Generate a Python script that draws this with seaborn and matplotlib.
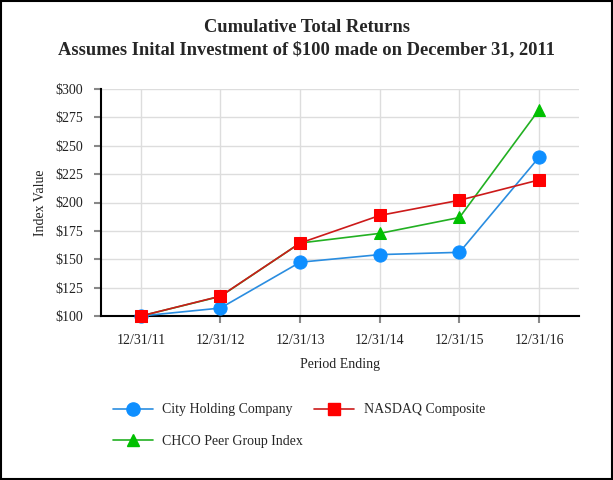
import matplotlib
matplotlib.use("Agg")
import matplotlib.pyplot as plt
from matplotlib.lines import Line2D
from matplotlib.patches import Rectangle
import seaborn as sns
import pandas as pd

periods = ["12/31/11", "12/31/12", "12/31/13", "12/31/14", "12/31/15", "12/31/16"]
city = [100.0, 107.0, 147.4, 154.1, 156.1, 240.0]
nasdaq = [100.0, 117.5, 164.3, 188.6, 202.0, 219.9]
peer = [100.0, 117.3, 164.3, 172.8, 186.8, 281.9]
series_names = ["City Holding Company", "NASDAQ Composite", "CHCO Peer Group Index"]
y_ticks = [100, 125, 150, 175, 200, 225, 250, 275, 300]

df = pd.DataFrame({
    "period": periods * 3,
    "value": city + nasdaq + peer,
    "series": [series_names[0]] * 6 + [series_names[1]] * 6 + [series_names[2]] * 6,
})

sns.set_style("white")
plt.rcParams["font.family"] = ["Liberation Serif", "DejaVu Serif"]

markers = {series_names[0]: "o", series_names[1]: "s", series_names[2]: "^"}
line_colors = {series_names[0]: "#2a8de0", series_names[1]: "#cc1a1a", series_names[2]: "#22b022"}
marker_fill = {series_names[0]: "#0f8fff", series_names[1]: "#ff0000", series_names[2]: "#00c000"}
marker_size = {series_names[0]: 9.5, series_names[1]: 9, series_names[2]: 9}

fig = plt.figure(figsize=(6.13, 4.80), dpi=100)
ax = fig.add_axes([101 / 613, 1 - 316 / 480, 478 / 613, 227 / 480])

df["x"] = df["period"].map({p: i for i, p in enumerate(periods)})
draw_order = [series_names[0], series_names[2], series_names[1]]
for name in draw_order:
    sub = df[df["series"] == name]
    sns.lineplot(data=sub, x="x", y="value", ax=ax, color=line_colors[name], linewidth=1.2,
                 marker=markers[name], markersize=marker_size[name],
                 markerfacecolor=marker_fill[name], markeredgecolor=marker_fill[name],
                 zorder=3, clip_on=False)

ax.set_xlim(-0.5, 5.5)
ax.set_ylim(100, 300)
ax.set_xticks(range(len(periods)))
ax.set_xticklabels(periods, fontsize=10, color="#222222")
ax.set_yticks(y_ticks)
ax.set_yticklabels(["${}".format(v) for v in y_ticks], fontsize=10, color="#222222")
ax.grid(True, color="#dddddd", linewidth=1)
ax.set_axisbelow(True)
for s in ["top", "right"]:
    ax.spines[s].set_visible(False)
for s in ["left", "bottom"]:
    ax.spines[s].set_color("black")
    ax.spines[s].set_linewidth(1.5)
ax.tick_params(axis="both", direction="out", length=5, color="#888888", width=1.5, left=True, bottom=True)
ax.tick_params(axis="x", pad=8)
ax.tick_params(axis="y", pad=8)
ax.set_xlabel("Period Ending", fontsize=10, labelpad=8, color="#222222")
ax.set_ylabel("Index Value", fontsize=10, labelpad=5.5, color="#222222")

fig.text(0.5, 1 - 28 / 480, "Cumulative Total Returns", ha="center", va="center",
         fontsize=13.3, fontweight="bold")
fig.text(0.5, 1 - 50 / 480, "Assumes Inital Investment of $100 made on December 31, 2011",
         ha="center", va="center", fontsize=13.3, fontweight="bold")

legend_order = [series_names[0], series_names[2], series_names[1]]
handles = [Line2D([], [], color=line_colors[n], marker=markers[n], markersize=marker_size[n],
                  markerfacecolor=marker_fill[n], markeredgecolor=marker_fill[n], linewidth=1.2)
           for n in legend_order]
fig.legend(handles, legend_order, loc="upper left", bbox_to_anchor=(100 / 613, 1 - 391 / 480),
           ncol=2, frameon=False, fontsize=10, handlelength=2.9, columnspacing=0.75,
           labelspacing=1.35, handletextpad=0.7)

fig.patches.append(Rectangle((0.002, 0.002), 0.996, 0.996, transform=fig.transFigure,
                             fill=False, edgecolor="black", linewidth=1.5))

fig.savefig("out.png", dpi=100)
